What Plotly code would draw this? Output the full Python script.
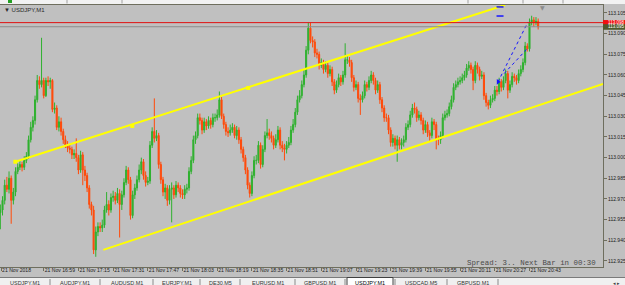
import plotly.graph_objects as go
import pandas as pd

symbol_label = "\u25BC USDJPY,M1"
start_time = "2018-11-21 16:39"
first_open = 112.960

closes = [
    112.962, 112.969, 112.980, 112.977, 112.985, 112.969, 112.975, 112.990, 112.993, 112.995,
    112.993, 112.998, 113.001, 113.013, 113.022, 113.027, 113.042, 113.056, 113.053, 113.056,
    113.045, 113.056, 113.055, 113.056, 113.035, 113.036, 113.022, 113.026, 113.019, 113.013,
    113.009, 113.007, 113.006, 113.002, 113.003, 113.000, 112.991, 113.002, 112.991, 112.987,
    112.978, 112.966, 112.962, 112.933, 112.946, 112.950, 112.949, 112.951, 112.962, 112.966,
    112.962, 112.971, 112.972, 112.969, 112.974, 112.966, 112.973, 112.982, 112.991, 112.984,
    112.958, 112.973, 112.978, 112.984, 112.991, 112.997, 112.987, 112.982, 112.983, 113.009,
    113.019, 113.014, 113.016, 112.995, 112.984, 112.975, 112.978, 112.969, 112.977, 112.978,
    112.973, 112.980, 112.978, 112.974, 112.973, 112.977, 112.978, 112.990, 112.998, 113.013,
    113.016, 113.029, 113.027, 113.020, 113.026, 113.023, 113.027, 113.024, 113.029, 113.029,
    113.031, 113.042, 113.030, 113.024, 113.019, 113.018, 113.020, 113.022, 113.016, 113.020,
    113.013, 113.006, 113.000, 112.991, 112.980, 112.974, 112.987, 112.998, 112.998, 113.009,
    112.995, 113.006, 113.016, 113.018, 113.016, 113.014, 113.009, 113.013, 113.020, 113.009,
    113.007, 113.006, 113.009, 113.011, 113.020, 113.024, 113.033, 113.042, 113.045, 113.053,
    113.060, 113.078, 113.094, 113.085, 113.084, 113.076, 113.075, 113.067, 113.069, 113.064,
    113.067, 113.061, 113.064, 113.055, 113.049, 113.053, 113.058, 113.055, 113.060, 113.071,
    113.071, 113.069, 113.058, 113.051, 113.053, 113.043, 113.042, 113.045, 113.053, 113.051,
    113.056, 113.060, 113.056, 113.049, 113.053, 113.042, 113.036, 113.029, 113.029, 113.020,
    113.011, 113.014, 113.009, 113.013, 113.009, 113.011, 113.013, 113.022, 113.024, 113.031,
    113.036, 113.035, 113.029, 113.031, 113.027, 113.020, 113.024, 113.018, 113.016, 113.026,
    113.024, 113.013, 113.013, 113.016, 113.029, 113.031, 113.032, 113.037, 113.042, 113.051,
    113.053, 113.055, 113.056, 113.058, 113.060, 113.065, 113.067, 113.064, 113.056, 113.067,
    113.064, 113.059, 113.060, 113.045, 113.040, 113.038, 113.042, 113.043, 113.049, 113.048,
    113.055, 113.051, 113.056, 113.061, 113.049, 113.053, 113.059, 113.058, 113.056, 113.061,
    113.064, 113.069, 113.081, 113.079, 113.098, 113.100, 113.098, 113.099, 113.095,
]

highs = [
    112.966, 112.972, 112.984, 112.986, 112.990, 112.987, 112.978, 112.993, 112.996, 112.998,
    112.997, 113.001, 113.004, 113.016, 113.026, 113.030, 113.045, 113.060, 113.059, 113.087,
    113.058, 113.058, 113.059, 113.058, 113.057, 113.040, 113.038, 113.030, 113.029, 113.021,
    113.016, 113.012, 113.010, 113.008, 113.006, 113.014, 113.002, 113.005, 113.004, 112.994,
    112.989, 112.980, 112.968, 112.965, 112.950, 112.953, 112.953, 112.955, 112.965, 112.975,
    112.969, 112.974, 112.976, 112.975, 112.978, 112.977, 112.976, 112.985, 112.994, 112.993,
    112.986, 112.976, 112.981, 112.987, 112.995, 113.000, 112.999, 112.990, 112.986, 113.012,
    113.022, 113.043, 113.020, 113.018, 112.997, 112.986, 112.981, 112.980, 112.980, 112.982,
    112.980, 112.983, 112.982, 112.980, 112.977, 112.980, 112.981, 112.993, 113.001, 113.016,
    113.019, 113.032, 113.032, 113.029, 113.029, 113.028, 113.030, 113.029, 113.032, 113.032,
    113.035, 113.048, 113.044, 113.032, 113.026, 113.022, 113.024, 113.025, 113.024, 113.023,
    113.022, 113.015, 113.008, 113.002, 112.993, 112.982, 112.990, 113.001, 113.002, 113.012,
    113.011, 113.009, 113.019, 113.028, 113.021, 113.019, 113.016, 113.017, 113.023, 113.022,
    113.012, 113.010, 113.012, 113.015, 113.023, 113.028, 113.036, 113.045, 113.049, 113.056,
    113.064, 113.081, 113.098, 113.098, 113.088, 113.086, 113.079, 113.077, 113.072, 113.071,
    113.070, 113.069, 113.067, 113.066, 113.057, 113.056, 113.061, 113.060, 113.063, 113.083,
    113.074, 113.073, 113.071, 113.060, 113.056, 113.055, 113.046, 113.048, 113.056, 113.055,
    113.059, 113.063, 113.062, 113.058, 113.056, 113.055, 113.044, 113.038, 113.032, 113.031,
    113.022, 113.017, 113.016, 113.016, 113.015, 113.014, 113.016, 113.025, 113.027, 113.034,
    113.039, 113.040, 113.037, 113.034, 113.033, 113.029, 113.027, 113.026, 113.020, 113.029,
    113.028, 113.026, 113.016, 113.019, 113.032, 113.034, 113.035, 113.040, 113.045, 113.054,
    113.056, 113.058, 113.059, 113.061, 113.063, 113.068, 113.070, 113.069, 113.066, 113.070,
    113.069, 113.066, 113.063, 113.062, 113.047, 113.042, 113.045, 113.046, 113.052, 113.052,
    113.058, 113.057, 113.059, 113.064, 113.063, 113.056, 113.062, 113.061, 113.060, 113.064,
    113.067, 113.072, 113.084, 113.083, 113.101, 113.103, 113.102, 113.102, 113.101,
]

lows = [
    112.948, 112.958, 112.966, 112.975, 112.974, 112.952, 112.966, 112.972, 112.988, 112.991,
    112.990, 112.991, 112.996, 112.999, 113.011, 113.019, 113.024, 113.040, 113.050, 113.051,
    113.043, 113.044, 113.052, 113.050, 113.033, 113.032, 113.020, 113.019, 113.016, 113.010,
    113.007, 113.004, 113.003, 112.999, 112.999, 112.997, 112.988, 112.989, 112.980, 112.983,
    112.975, 112.963, 112.958, 112.930, 112.928, 112.943, 112.946, 112.946, 112.949, 112.960,
    112.958, 112.960, 112.968, 112.966, 112.967, 112.942, 112.962, 112.971, 112.980, 112.981,
    112.955, 112.956, 112.970, 112.976, 112.982, 112.988, 112.984, 112.979, 112.980, 112.981,
    113.007, 113.011, 113.012, 112.992, 112.981, 112.972, 112.970, 112.965, 112.966, 112.953,
    112.970, 112.971, 112.975, 112.971, 112.970, 112.970, 112.974, 112.976, 112.988, 112.996,
    113.010, 113.014, 113.024, 113.017, 113.018, 113.020, 113.021, 113.021, 113.022, 113.026,
    113.027, 113.029, 113.028, 113.021, 113.016, 113.015, 113.016, 113.018, 113.014, 113.013,
    113.010, 113.003, 112.997, 112.988, 112.977, 112.971, 112.972, 112.985, 112.995, 112.996,
    112.992, 112.993, 113.004, 113.014, 113.013, 113.011, 113.006, 113.007, 113.011, 113.006,
    113.004, 112.998, 113.003, 113.007, 113.009, 113.018, 113.022, 113.031, 113.040, 113.043,
    113.051, 113.058, 113.075, 113.083, 113.080, 113.073, 113.072, 113.064, 113.065, 113.061,
    113.062, 113.058, 113.059, 113.052, 113.046, 113.047, 113.051, 113.052, 113.053, 113.058,
    113.068, 113.066, 113.055, 113.048, 113.049, 113.040, 113.031, 113.040, 113.043, 113.048,
    113.049, 113.054, 113.053, 113.046, 113.047, 113.039, 113.033, 113.026, 113.026, 113.017,
    113.008, 113.008, 113.006, 112.997, 113.006, 113.006, 113.008, 113.011, 113.020, 113.022,
    113.029, 113.032, 113.026, 113.027, 113.024, 113.017, 113.018, 113.015, 113.012, 113.014,
    113.020, 113.006, 113.009, 113.010, 113.014, 113.027, 113.029, 113.030, 113.035, 113.040,
    113.049, 113.051, 113.053, 113.054, 113.056, 113.058, 113.063, 113.061, 113.049, 113.054,
    113.061, 113.056, 113.057, 113.042, 113.037, 113.035, 113.036, 113.040, 113.041, 113.045,
    113.046, 113.048, 113.049, 113.054, 113.043, 113.047, 113.051, 113.055, 113.053, 113.054,
    113.059, 113.062, 113.067, 113.077, 113.077, 113.096, 113.095, 113.096, 113.093,
]

# M1 forex bars open at the previous bar's close
opens = [first_open] + closes[:-1]
times = pd.date_range(start_time, periods=len(closes), freq="1min")

ask_price = 113.098
bid_price = 113.095

# channel (yellow) drawn objects
upper_t = ["2018-11-21 16:45:55", "2018-11-21 20:31:43"]
upper_p = [112.997, 113.1108]
lower_t = ["2018-11-21 17:26:28", "2018-11-21 21:16:54"]
lower_p = [112.933, 113.0535]
anchor_t = ["2018-11-21 16:45:55", "2018-11-21 17:39:50", "2018-11-21 18:33:17"]
anchor_p = [112.997, 113.023, 113.0506]

# trade history markers
trade_open_t = ["2018-11-21 20:28:30", "2018-11-21 20:31:18"]
trade_open_p = [113.055, 113.061]
trade_close_t = ["2018-11-21 20:42:18", "2018-11-21 20:42:30"]
trade_close_p = [113.0985, 113.080]
level_t = ["2018-11-21 20:29:25", "2018-11-21 20:29:25"]
level_p = [113.1028, 113.1094]

price_ticks = [112.925, 112.940, 112.955, 112.970, 112.985, 113.000, 113.015,
               113.030, 113.045, 113.060, 113.075, 113.090, 113.105]
time_tick_vals = ["2018-11-21 16:39:20", "2018-11-21 16:59", "2018-11-21 17:15", "2018-11-21 17:31",
                  "2018-11-21 17:47", "2018-11-21 18:03", "2018-11-21 18:19", "2018-11-21 18:35",
                  "2018-11-21 18:51", "2018-11-21 19:07", "2018-11-21 19:23", "2018-11-21 19:39",
                  "2018-11-21 19:55", "2018-11-21 20:11", "2018-11-21 20:27", "2018-11-21 20:43"]
time_tick_text = ["21 Nov 2018", "21 Nov 16:59", "21 Nov 17:15", "21 Nov 17:31", "21 Nov 17:47",
                  "21 Nov 18:03", "21 Nov 18:19", "21 Nov 18:35", "21 Nov 18:51", "21 Nov 19:07",
                  "21 Nov 19:23", "21 Nov 19:39", "21 Nov 19:55", "21 Nov 20:11", "21 Nov 20:27",
                  "21 Nov 20:43"]
tabs = ["USDJPY,M1", "AUDJPY,M1", "AUDUSD,M1", "EURJPY,M1", "DE30,M5", "EURUSD,M1",
        "GBPUSD,M1", "USDJPY,M1", "USDCAD,M5", "GBPUSD,M1"]
active_tab = 7
status_text = "Spread: 3.. Next Bar in 00:30"

x_range = ["2018-11-21 16:38:50", "2018-11-21 21:16:54"]
y_range = [112.9206, 113.1108]

BG = "#C0C0C0"
AXC = "#6E6E5E"
W, H = 625, 285
ML, MR, MT, MB = 0, 22, 5, 18
PW, PH = W - ML - MR, H - MT - MB


def px_x(p):
    return p / PW


def px_y(p):
    return (H - MB - p) / PH


fig = go.Figure()

fig.add_trace(go.Candlestick(
    x=times, open=opens, high=highs, low=lows, close=closes,
    increasing=dict(line=dict(color="#2FB12F", width=1), fillcolor="#2FB12F"),
    decreasing=dict(line=dict(color="#FF4A0A", width=1), fillcolor="#FF4A0A"),
    whiskerwidth=0, hoverinfo="skip", showlegend=False,
))

for tt, pp in ((upper_t, upper_p), (lower_t, lower_p)):
    fig.add_trace(go.Scatter(x=tt, y=pp, mode="lines", line=dict(color="#FFFF00", width=2),
                             hoverinfo="skip", showlegend=False))
fig.add_trace(go.Scatter(x=anchor_t, y=anchor_p, mode="markers",
                         marker=dict(symbol="square", size=4, color="#FFFF00"),
                         hoverinfo="skip", showlegend=False))

for i in range(len(trade_open_t)):
    fig.add_trace(go.Scatter(x=[trade_open_t[i], trade_close_t[i]], y=[trade_open_p[i], trade_close_p[i]],
                             mode="lines", line=dict(color="#1515FF", width=1, dash="dot"),
                             hoverinfo="skip", showlegend=False))
fig.add_trace(go.Scatter(x=trade_open_t[:1], y=trade_open_p[:1], mode="markers",
                         marker=dict(symbol="triangle-right", size=5, color="#1515FF"),
                         hoverinfo="skip", showlegend=False))
fig.add_trace(go.Scatter(x=level_t, y=level_p, mode="markers",
                         marker=dict(symbol="line-ew", size=5, line=dict(color="#1515FF", width=1.5)),
                         hoverinfo="skip", showlegend=False))

shapes = []
# ask / bid lines
shapes.append(dict(type="line", xref="paper", x0=0, x1=1, yref="y", y0=ask_price, y1=ask_price,
                   line=dict(color="#E01010", width=1)))
shapes.append(dict(type="line", xref="paper", x0=0, x1=1, yref="y", y0=bid_price, y1=bid_price,
                   line=dict(color="#8C8C8C", width=1)))
# price label boxes on the right scale
for price, col in ((ask_price, "#F01010"), (bid_price, "#4E5A2E")):
    yp = (price - y_range[0]) / (y_range[1] - y_range[0])
    shapes.append(dict(type="rect", xref="paper", yref="paper", x0=1.0, x1=W / PW,
                       y0=yp - 3 / PH, y1=yp + 2.6 / PH, fillcolor=col, line=dict(width=0), layer="above"))
# top toolbar strip
shapes.append(dict(type="rect", xref="paper", yref="paper", x0=0, x1=W / PW, y0=1.0 + 1 / PH, y1=px_y(-2),
                   fillcolor="#F2F2F2", line=dict(width=0)))
for sx in (67, 122, 468, 523, 563):
    shapes.append(dict(type="line", xref="paper", yref="paper", x0=px_x(sx), x1=px_x(sx),
                       y0=px_y(0), y1=px_y(3.5), line=dict(color="#A0A0A0", width=1)))
shapes.append(dict(type="rect", xref="paper", yref="paper", x0=px_x(8), x1=px_x(12),
                   y0=px_y(0), y1=px_y(3), fillcolor="#22A022", line=dict(width=0)))
# tab bar
shapes.append(dict(type="rect", xref="paper", yref="paper", x0=0, x1=W / PW, y0=px_y(277.5), y1=px_y(290),
                   fillcolor="#F0F0F0", line=dict(width=0)))
shapes.append(dict(type="line", xref="paper", yref="paper", x0=0, x1=W / PW, y0=px_y(277.5), y1=px_y(277.5),
                   line=dict(color="#7A7A7A", width=1)))
tab_edges = [0, 50, 100, 153, 200, 240, 295, 345, 395, 447, 498]
for k, ex in enumerate(tab_edges[1:]):
    shapes.append(dict(type="line", xref="paper", yref="paper", x0=px_x(ex), x1=px_x(ex),
                       y0=px_y(279), y1=px_y(290), line=dict(color="#8A8A8A", width=1)))
shapes.append(dict(type="rect", xref="paper", yref="paper",
                   x0=px_x(tab_edges[active_tab] + 2), x1=px_x(tab_edges[active_tab + 1] - 2),
                   y0=px_y(277.5), y1=px_y(290), fillcolor="#FFFFFF", line=dict(color="#404040", width=1)))

annotations = []
annotations.append(dict(xref="paper", yref="paper", x=px_x(2), y=px_y(9.5), text=symbol_label,
                        showarrow=False, xanchor="left", yanchor="middle",
                        font=dict(family="Liberation Sans", size=6, color="#2A2A2A")))
annotations.append(dict(xref="paper", yref="paper", x=px_x(598), y=px_y(263), text=status_text,
                        showarrow=False, xanchor="right", yanchor="middle",
                        font=dict(family="Liberation Mono", size=7.4, color="#4A4A4A")))
for price in (ask_price, bid_price):
    annotations.append(dict(xref="paper", yref="y", x=1.0 + 3 / PW, y=price, text=f"{price:.3f}",
                            showarrow=False, xanchor="left", yanchor="middle",
                            font=dict(family="Liberation Sans", size=4.5, color="#FFFFFF")))
annotations.append(dict(xref="paper", yref="paper", x=px_x(542), y=px_y(7), text="\u25BC",
                        showarrow=False, xanchor="center", yanchor="middle",
                        font=dict(family="DejaVu Sans", size=6, color="#8C8C8C")))
for k, name in enumerate(tabs):
    cx = (tab_edges[k] + tab_edges[k + 1]) / 2
    annotations.append(dict(xref="paper", yref="paper", x=px_x(cx), y=px_y(282.5), text=name,
                            showarrow=False, xanchor="center", yanchor="middle",
                            font=dict(family="Liberation Sans", size=5.5,
                                      color="#000000" if k == active_tab else "#333333")))
annotations.append(dict(xref="paper", yref="paper", x=px_x(616), y=px_y(282.5), text="\u25C2 \u25B8",
                        showarrow=False, xanchor="center", yanchor="middle",
                        font=dict(family="DejaVu Sans", size=5, color="#404040")))

fig.update_layout(
    width=W, height=H, margin=dict(l=ML, r=MR, t=MT, b=MB),
    paper_bgcolor=BG, plot_bgcolor=BG, showlegend=False, hovermode=False,
    shapes=shapes, annotations=annotations,
    xaxis=dict(type="date", range=x_range, rangeslider=dict(visible=False), showgrid=False,
               zeroline=False, showline=True, linecolor=AXC, linewidth=1, mirror=True,
               tickmode="array", tickvals=time_tick_vals, ticktext=time_tick_text, tickangle=0,
               ticks="outside", ticklen=3, tickcolor=AXC, ticklabelposition="outside right",
               ticklabelstandoff=-2,
               tickfont=dict(family="Liberation Sans", size=5.1, color="#202020"), automargin=False),
    yaxis=dict(side="right", range=y_range, showgrid=False, zeroline=False, showline=True,
               linecolor=AXC, linewidth=1, tickmode="array", tickvals=price_ticks,
               ticktext=[f"{v:.3f}" for v in price_ticks], ticks="outside", ticklen=3,
               tickcolor=AXC, tickfont=dict(family="Liberation Sans", size=5, color="#202020"),
               automargin=False),
)

fig.write_html("out.html", config={"displayModeBar": False})
